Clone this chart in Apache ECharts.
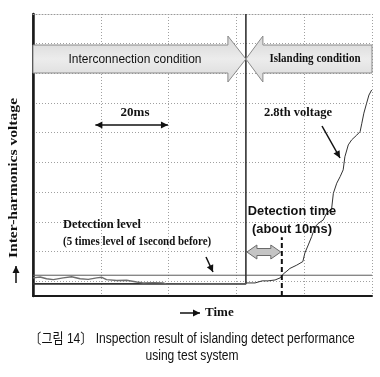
<!DOCTYPE html>
<html>
<head>
<meta charset="utf-8">
<script src="https://cdn.jsdelivr.net/npm/echarts@6/dist/echarts.min.js"></script>
<style>
  html, body { margin: 0; padding: 0; background: #fff; }
  #main { width: 380px; height: 377px; }
</style>
</head>
<body>
<div id="main"></div>
<script>
// time in ms, voltage in scope divisions (bottom of frame = 0)
const timeBefore = [0, 2.1, 4.0, 6.0, 8.9, 11.4, 13.9, 16.3, 18.8, 20.3, 21.7, 24.7, 27.6, 30.6, 32.5, 35.5, 38.4, 39.4, 50, 62.8]
const voltBefore = [0.61, 0.64, 0.58, 0.55, 0.61, 0.65, 0.58, 0.56, 0.61, 0.63, 0.55, 0.52, 0.53, 0.47, 0.44, 0.45, 0.44, 0.40, 0.41, 0.41]

const timeAfter = [62.8, 65.5, 67.6, 69.3, 71.4, 72.9, 73.8, 74.9, 75.8, 77.8, 79.6, 80.2, 81.2, 82.2, 83.2, 84.2, 85.6, 86.6, 88.1, 88.6, 89.6, 90.6, 91.5, 92.0, 93.0, 94.0, 95.5, 96.5, 97.0, 97.6, 98.4, 99.1, 99.9]
const voltAfter = [0.44, 0.44, 0.51, 0.51, 0.54, 0.61, 0.74, 0.84, 0.93, 1.04, 1.16, 1.45, 1.72, 2.0, 2.33, 2.45, 2.56, 2.79, 2.95, 3.46, 3.80, 4.02, 4.25, 4.69, 5.09, 5.26, 5.42, 5.54, 5.82, 6.16, 6.49, 6.77, 6.94]

// islanding switch signal
const switchTime = 62.8
const signalLow = 0.41
const signalHigh = 9.5

const detectLevel = 0.70
const detectTime = 73.4
const detectMarkTop = 1.98

const xMax = 100
const xStep = 20
const yMax = 9.5

const serif = '"Liberation Serif", "Times New Roman", serif'
const sans = '"Liberation Sans", Arial, "Noto Sans CJK KR", sans-serif'

const chartInstance = echarts.init(document.getElementById('main'))

const zip = (xs, ys) => xs.map((x, i) => [x, ys[i]])

const initOption = {
    animation: false,
    backgroundColor: '#fff',
    grid: { left: 33, right: 8, top: 14, bottom: 81 },
    xAxis: [
        {
            type: 'value', min: 0, max: xMax, interval: xStep,
            axisLine: { lineStyle: { color: '#1a1a1a', width: 2 } },
            axisTick: { show: false }, axisLabel: { show: false },
            splitLine: { lineStyle: { color: '#a0a0a0', type: [1, 2], width: 1 } }
        },
        {
            type: 'value', min: 0, max: xMax, position: 'top',
            axisLine: { lineStyle: { color: '#999', type: [1, 2], width: 1 } },
            axisTick: { show: false }, axisLabel: { show: false }, splitLine: { show: false }
        }
    ],
    yAxis: [
        {
            type: 'value', min: 0, max: yMax,
            axisLine: { show: true, lineStyle: { color: '#1a1a1a', width: 1.5 } },
            axisTick: { show: false }, axisLabel: { show: false }, splitLine: { show: false }
        },
        {
            // grid lines counted from the top of the frame
            type: 'value', min: 0, max: yMax, interval: 1, inverse: true, position: 'right',
            axisLine: { show: true, lineStyle: { color: '#1a1a1a', width: 2.5 } },
            axisTick: { show: false }, axisLabel: { show: false },
            splitLine: { lineStyle: { color: '#a0a0a0', type: [1, 2], width: 1 } }
        }
    ],
    series: [
        {
            type: 'line', data: [[0, detectLevel], [xMax, detectLevel]],
            symbol: 'none', lineStyle: { color: '#5a5a5a', width: 1 }
        },
        {
            type: 'line', data: [[0, signalLow], [switchTime, signalLow], [switchTime, signalHigh]],
            symbol: 'none', lineStyle: { color: '#333', width: 1.6 }
        },
        {
            type: 'line', data: zip(timeBefore, voltBefore),
            symbol: 'none', lineStyle: { color: '#6e6e6e', width: 1.4 }
        },
        {
            type: 'line', data: zip(timeAfter, voltAfter),
            symbol: 'none', lineStyle: { color: '#333', width: 1 }
        },
        {
            type: 'line', data: [[detectTime, 0], [detectTime, detectMarkTop]],
            symbol: 'none', lineStyle: { color: '#111', width: 2, type: [5, 3] }
        }
    ]
}
chartInstance.setOption(initOption)

const px = (t, v) => chartInstance.convertToPixel({ xAxisIndex: 0, yAxisIndex: 0 }, [t, v])

// arrow head polygon at 'to', pointing away from 'from'
function head(from, to, len, half) {
    const dx = to[0] - from[0], dy = to[1] - from[1]
    const d = Math.sqrt(dx * dx + dy * dy)
    const ux = dx / d, uy = dy / d
    const bx = to[0] - ux * len, by = to[1] - uy * len
    return [to, [bx - uy * half, by + ux * half], [bx + uy * half, by - ux * half]]
}
function arrow(from, to, width, both) {
    const out = [
        { type: 'line', shape: { x1: from[0], y1: from[1], x2: to[0], y2: to[1] }, style: { stroke: '#111', lineWidth: width } },
        { type: 'polygon', shape: { points: head(from, to, 7, 3.5) }, style: { fill: '#111' } }
    ]
    if (both) out.push({ type: 'polygon', shape: { points: head(to, from, 7, 3.5) }, style: { fill: '#111' } })
    return out
}
function label(x, y, text, size, family, weight, align, sx) {
    return {
        type: 'text', x: x, y: y, z: 10, scaleX: sx || 1,
        style: { text: text, fontSize: size, fontFamily: family, fontWeight: weight || 'normal', fill: '#111', align: align || 'center', verticalAlign: 'middle' }
    }
}

const left = px(0, 0)[0], right = px(xMax, 0)[0]
const tip = px(switchTime, 0)[0]
const bandTop = 45, bandBot = 73, midY = 59, headTop = 36, headBot = 82
const bandFill = new echarts.graphic.LinearGradient(0, 0, 0, 1, [
    { offset: 0, color: '#d6d6d6' }, { offset: 0.5, color: '#ececec' }, { offset: 1, color: '#d9d9d9' }
])

const a20 = [px(18.4, 0)[0], px(39.8, 0)[0]]
const dtL = px(switchTime, 0)[0] + 1, dtR = px(detectTime, 0)[0] - 1, dtY = 252

const graphic = [
    {
        type: 'polygon', z: 5,
        shape: { points: [[left, bandTop], [tip - 18, bandTop], [tip - 18, headTop], [tip, midY], [tip - 18, headBot], [tip - 18, bandBot], [left, bandBot]] },
        style: { fill: bandFill, stroke: '#8a8a8a', lineWidth: 1 }
    },
    {
        type: 'polygon', z: 5,
        shape: { points: [[right, bandTop], [tip + 17, bandTop], [tip + 17, headTop], [tip, midY], [tip + 17, headBot], [tip + 17, bandBot], [right, bandBot]] },
        style: { fill: bandFill, stroke: '#8a8a8a', lineWidth: 1 }
    },
    label(135, midY, 'Interconnection condition', 13, sans, 'normal', 'center', 0.92),
    label(315, midY, 'Islanding condition', 12, serif, 'bold', 'center', 0.92),

    label(135, 113, '20ms', 13, serif, 'bold'),
    ...arrow([a20[0], 125], [a20[1], 125], 1.5, true),

    label(298, 113, '2.8th voltage', 12.5, serif, 'bold'),
    ...arrow([322, 126], [340, 158], 1.5, false),

    label(292, 211, 'Detection time', 13.5, sans, 'bold', 'center', 0.95),
    label(292, 229, '(about 10ms)', 13.5, sans, 'bold', 'center', 0.95),
    {
        type: 'polygon', z: 5,
        shape: { points: [[dtL, dtY], [dtL + 10, dtY - 7], [dtL + 10, dtY - 3.5], [dtR - 10, dtY - 3.5], [dtR - 10, dtY - 7], [dtR, dtY], [dtR - 10, dtY + 7], [dtR - 10, dtY + 3.5], [dtL + 10, dtY + 3.5], [dtL + 10, dtY + 7]] },
        style: { fill: '#c4c4c4', stroke: '#6a6a6a', lineWidth: 1 }
    },

    label(63, 225, 'Detection level', 12.5, serif, 'bold', 'left'),
    label(63, 242, '(5 times level of 1second before)', 11.5, serif, 'bold', 'left', 0.95),
    ...arrow([206, 257], [213, 272], 1.5, false),

    {
        type: 'text', x: 14, y: 178, rotation: Math.PI / 2, scaleX: 1.2, z: 10,
        style: { text: 'Inter-harmonics voltage', fontSize: 13, fontFamily: serif, fontWeight: 'bold', fill: '#111', align: 'center', verticalAlign: 'middle' }
    },
    ...arrow([16, 283], [16, 266], 1.5, false),

    ...arrow([180, 313], [200, 313], 1.5, false),
    label(205, 313, 'Time', 13, serif, 'bold', 'left'),

    label(192, 339, '〔그림 14〕 Inspection result of islanding detect performance', 14, sans, 'normal', 'center', 0.86),
    label(192, 356, 'using test system', 14, sans, 'normal', 'center', 0.86)
]
chartInstance.setOption({ graphic: graphic })
</script>
</body>
</html>
